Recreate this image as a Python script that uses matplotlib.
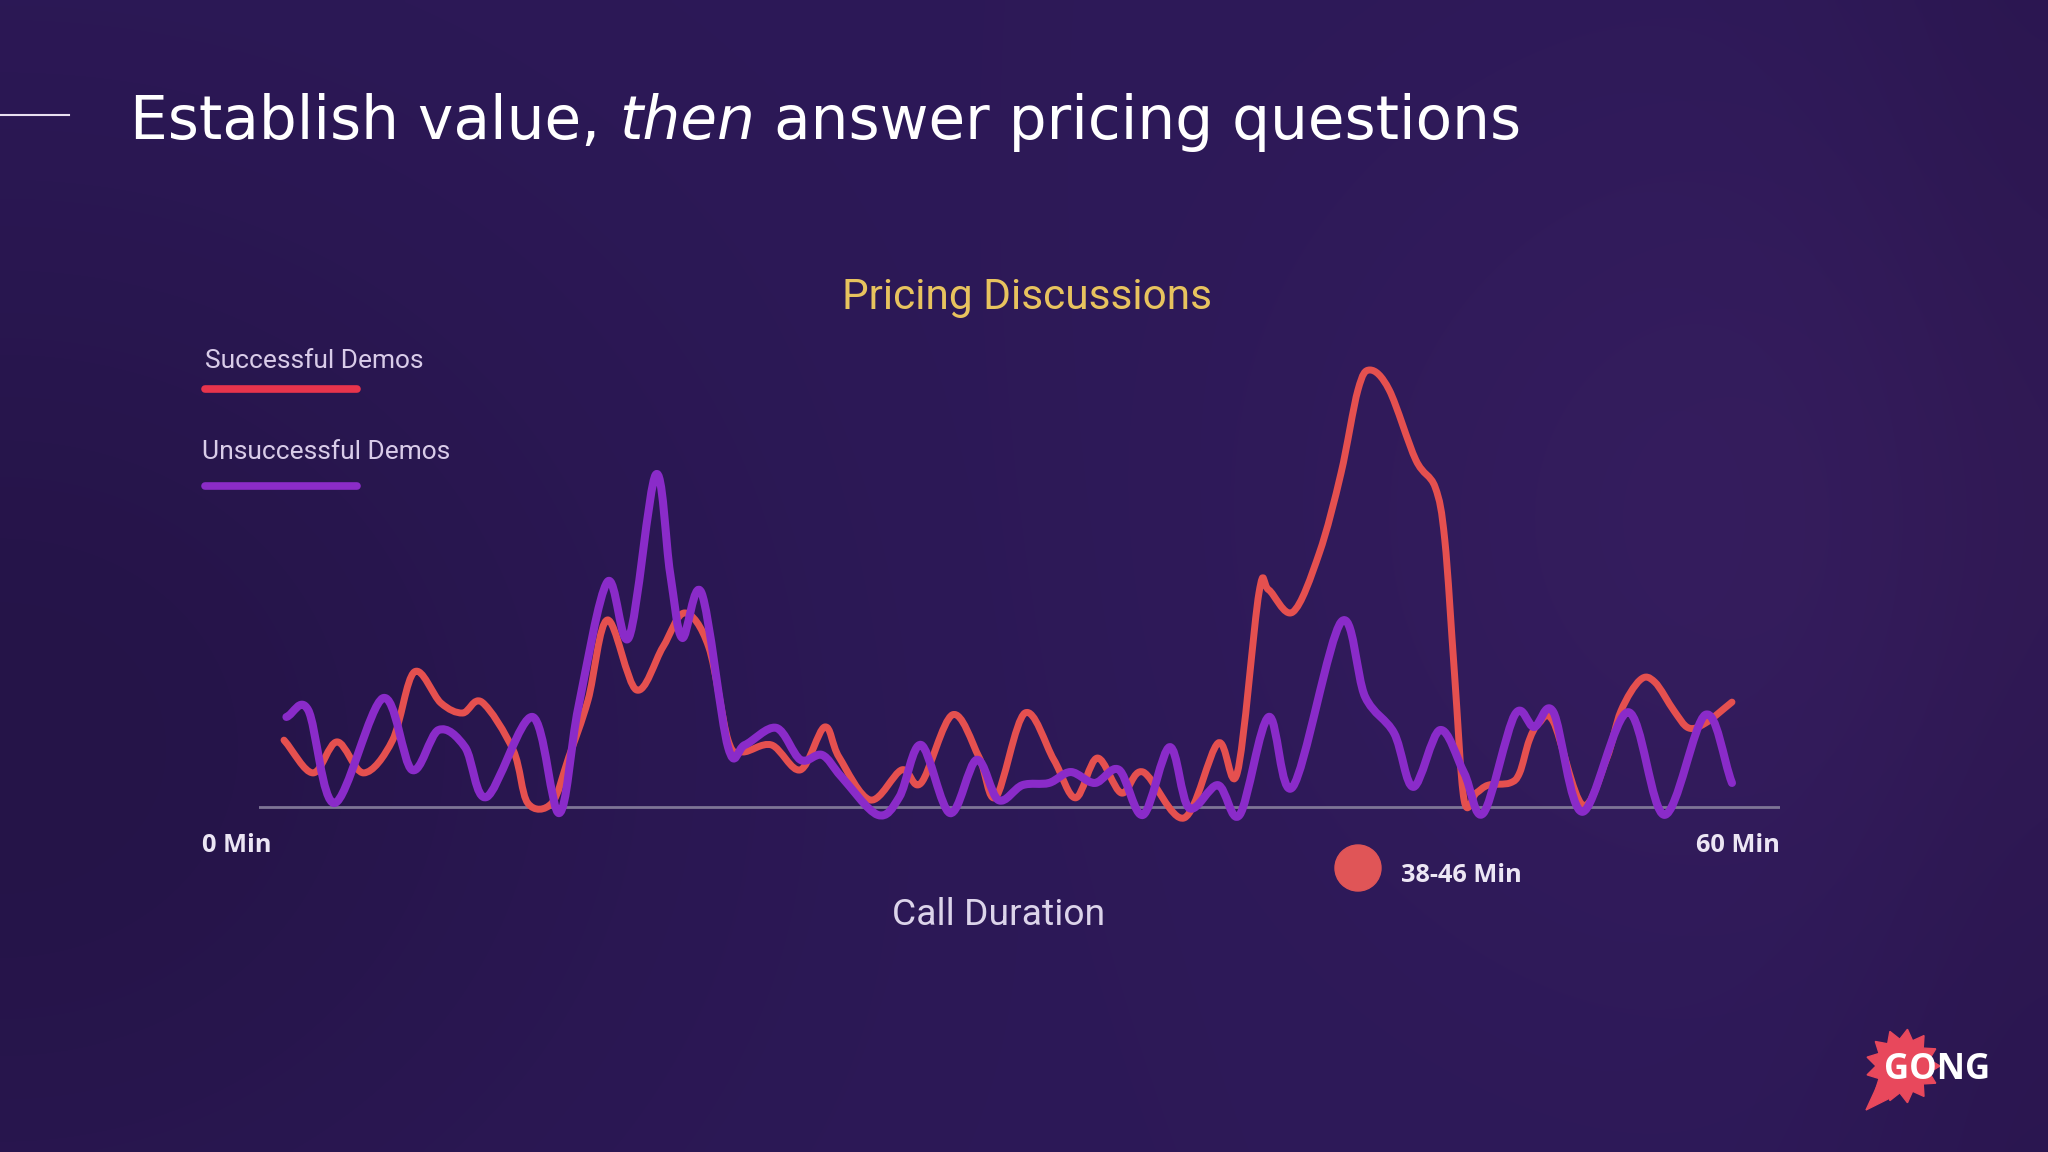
import numpy as np
import matplotlib
matplotlib.use("Agg")
import matplotlib.pyplot as plt
from matplotlib.path import Path
from matplotlib.patches import PathPatch, Polygon, Circle

# ---------------- data ----------------
minutes_success = [0.0, 1.2, 2.2, 3.3, 4.5, 5.4, 6.5, 7.4, 8.2, 9.5, 10.1, 11.1, 11.8, 12.6,
                   13.4, 14.6, 15.7, 16.6, 17.6, 18.4, 19.0, 20.2, 21.4, 22.4, 23.0, 24.3,
                   25.6, 26.4, 27.7, 28.8, 29.5, 30.7, 31.9, 32.8, 33.7, 34.7, 35.6, 37.3,
                   38.7, 39.5, 40.4, 40.8, 41.8, 42.9, 43.8, 44.5, 45.0, 45.8, 46.9, 47.7,
                   48.1, 48.5, 48.9, 49.4, 49.9, 50.8, 51.2, 51.6, 52.0, 52.6, 53.8, 54.8,
                   55.4, 56.2, 56.8, 57.6, 58.2, 58.9, 60.0]
share_success = [15.3, 7.8, 14.9, 7.8, 15.3, 30.9, 23.8, 21.5, 24.0, 13.0, 0.9, 0.9, 11.4, 24.5,
                 42.8, 26.8, 36.6, 44.4, 36.6, 15.3, 12.6, 14.2, 8.5, 18.3, 11.4, 1.6,
                 8.5, 5.5, 21.1, 11.4, 2.3, 21.5, 10.8, 2.1, 11.2, 3.2, 8.0, -2.5,
                 14.6, 7.8, 49.0, 49.7, 44.6, 58.1, 76.4, 95.4, 100.0, 95.4, 79.4, 73.2,
                 61.1, 30.7, 1.6, 3.2, 5.0, 5.5, 7.8, 15.3, 19.2, 19.5, 0.5, 11.0,
                 22.0, 29.1, 28.6, 22.0, 18.1, 19.2, 24.0]

minutes_unsuccess = [0.1, 1.0, 2.1, 4.1, 5.3, 6.4, 7.5, 8.4, 10.3, 11.4, 12.2, 13.4, 14.3, 15.4,
                     16.0, 16.5, 17.3, 18.4, 19.1, 20.4, 21.4, 22.3, 23.1, 24.6, 25.5, 26.4,
                     27.6, 28.7, 29.6, 30.6, 31.7, 32.6, 33.6, 34.6, 35.6, 36.7, 37.5, 38.7,
                     39.6, 40.8, 41.8, 43.8, 44.8, 46.0, 46.8, 47.9, 48.9, 49.7, 51.0, 51.8,
                     52.6, 53.8, 55.7, 57.2, 58.9, 60.0]
share_unsuccess = [20.6, 22.2, 0.9, 24.9, 8.5, 17.6, 13.7, 2.3, 20.6, -1.4, 22.9, 51.5, 38.9, 76.0,
                   53.5, 38.7, 49.0, 13.7, 14.2, 18.1, 10.8, 11.9, 6.9, -1.8, 2.3, 14.2,
                   -1.4, 10.8, 1.6, 5.0, 5.5, 8.0, 5.5, 8.5, -1.8, 13.7, -0.2, 5.0,
                   -1.8, 20.6, 4.6, 42.3, 25.2, 16.9, 4.6, 17.6, 7.8, -1.4, 21.1, 18.3,
                   21.7, -1.1, 21.7, -1.8, 21.1, 5.5]

series_labels = ["Successful Demos", "Unsuccessful Demos"]
axis_end_labels = ["0 Min", "60 Min"]
highlight_label = "38-46 Min"
chart_title = "Pricing Discussions"
x_title = "Call Duration"
slide_title = ["Establish value, ", "then", " answer pricing questions"]

# ---------------- figure ----------------
W, H, DPI = 2048, 1152, 100
fig = plt.figure(figsize=(W / DPI, H / DPI), dpi=DPI)

bg = fig.add_axes([0, 0, 1, 1])
bg.set_xlim(0, W)
bg.set_ylim(H, 0)
bg.axis("off")

# background gradient
yy, xx = np.mgrid[0:1:288j, 0:1:512j]
base = np.array([45, 25, 88], float)
light = np.exp(-(((xx - 0.88) ** 2) / 0.06 + ((yy - 0.45) ** 2) / 0.15))
dark = np.exp(-(((xx - 0.0) ** 2) / 0.10 + ((yy - 0.65) ** 2) / 0.25))
edge = np.exp(-(((xx - 1.0) ** 2) / 0.01))
img = (base[None, None, :] + light[..., None] * np.array([8, 4, 6])
       - dark[..., None] * np.array([8, 5, 16]) - edge[..., None] * np.array([3, 3, 8]))
img = np.clip(img / 255.0, 0, 1)
bg.imshow(img, extent=[0, W, H, 0], aspect="auto", interpolation="bilinear", zorder=0)

# title rule
bg.plot([0, 69], [115, 115], color="#e8e0f0", lw=1.5, zorder=2)

# slide title (mixed italic)
renderer = fig.canvas.get_renderer()
def place_title(size):
    texts = []
    x = 130
    for i, part in enumerate(slide_title):
        t = bg.text(x, 122, part, fontsize=size, color="white", va="center", ha="left",
                    family="DejaVu Sans", style="italic" if i == 1 else "normal", zorder=3)
        ext = t.get_window_extent(renderer)
        x = ext.x1
        texts.append(t)
    return texts, x - 130
texts, width = place_title(40)
for t in texts:
    t.remove()
texts, width = place_title(40 * 1391 / width)

# chart title
bg.text(1027, 298, chart_title, fontsize=30.5, color="#e8c35e", ha="center", va="center",
        family="Roboto", zorder=3)

# legend
leg_colors = ["#e8344c", "#8b2cc8"]
bg.text(205, 361, series_labels[0], fontsize=19, color="#d9cce9", ha="left", va="center",
        family="Roboto", zorder=3)
bg.plot([205, 357], [389, 389], color=leg_colors[0], lw=5.5, solid_capstyle="round", zorder=3)
bg.text(202, 452, series_labels[1], fontsize=19, color="#d9cce9", ha="left", va="center",
        family="Roboto", zorder=3)
bg.plot([205, 357], [486, 486], color=leg_colors[1], lw=5.5, solid_capstyle="round", zorder=3)

# axis labels
bg.text(202, 845, axis_end_labels[0], fontsize=18.3, color="#ece6f4", ha="left", va="center",
        family="Open Sans", weight="bold", zorder=3)
bg.text(1780, 845, axis_end_labels[1], fontsize=18.3, color="#ece6f4", ha="right", va="center",
        family="Open Sans", weight="bold", zorder=3)
bg.add_patch(Circle((1358, 868), 23, color="#e05557", zorder=3))
bg.text(1401, 876, highlight_label, fontsize=18.3, color="#ece6f4", ha="left", va="center",
        family="Open Sans", weight="bold", zorder=3)
bg.text(999, 915, x_title, fontsize=26.8, color="#dcd4ea", ha="center", va="center",
        family="Roboto", zorder=3)

# GONG logo
cx, cy = 1903, 1066
n = 13
ang = np.linspace(0, 2 * np.pi, 2 * n, endpoint=False)
rad = np.where(np.arange(2 * n) % 2 == 0, 37, 27)
star = np.column_stack([cx + rad * np.cos(ang), cy + rad * np.sin(ang)])
bg.add_patch(Polygon(star, closed=True, color="#e8485c", zorder=3))
bg.add_patch(Polygon([(1878, 1084), (1866, 1110), (1898, 1094)], closed=True, color="#e8485c", zorder=3))
bg.text(1884, 1070, "GONG", fontsize=25, color="white", weight="bold", family="Open Sans",
        ha="left", va="center", zorder=4)

# ---------------- chart axes ----------------
ax = fig.add_axes([259 / W, 1 - 850 / H, (1780 - 259) / W, 520 / H])
ax.set_xlim(-1.036, 61.99)
ax.set_ylim(-9.84, 109.15)
ax.axis("off")
ax.patch.set_alpha(0)

ax.axhline(0, color="#7e7596", lw=2, zorder=1)


def smooth_path(x, y):
    x = np.asarray(x, float)
    y = np.asarray(y, float)
    px = np.concatenate([[2 * x[0] - x[1]], x, [2 * x[-1] - x[-2]]])
    py = np.concatenate([[2 * y[0] - y[1]], y, [2 * y[-1] - y[-2]]])
    verts = [(x[0], y[0])]
    codes = [Path.MOVETO]
    for i in range(len(x) - 1):
        c1x = px[i + 1] + (px[i + 2] - px[i]) / 6
        c1y = py[i + 1] + (py[i + 2] - py[i]) / 6
        c2x = px[i + 2] - (px[i + 3] - px[i + 1]) / 6
        c2y = py[i + 2] - (py[i + 3] - py[i + 1]) / 6
        c1x = min(max(c1x, x[i]), x[i + 1])
        c2x = min(max(c2x, x[i]), x[i + 1])
        verts += [(c1x, c1y), (c2x, c2y), (x[i + 1], y[i + 1])]
        codes += [Path.CURVE4] * 3
    return Path(verts, codes)


ax.add_patch(PathPatch(smooth_path(minutes_success, share_success), facecolor="none",
                       edgecolor="#e5504f", lw=5, capstyle="round", joinstyle="round",
                       zorder=2, clip_on=False))
ax.add_patch(PathPatch(smooth_path(minutes_unsuccess, share_unsuccess), facecolor="none",
                       edgecolor="#8a2bc9", lw=5.8, capstyle="round", joinstyle="round",
                       zorder=3, clip_on=False))

fig.savefig("out.png", dpi=DPI)
